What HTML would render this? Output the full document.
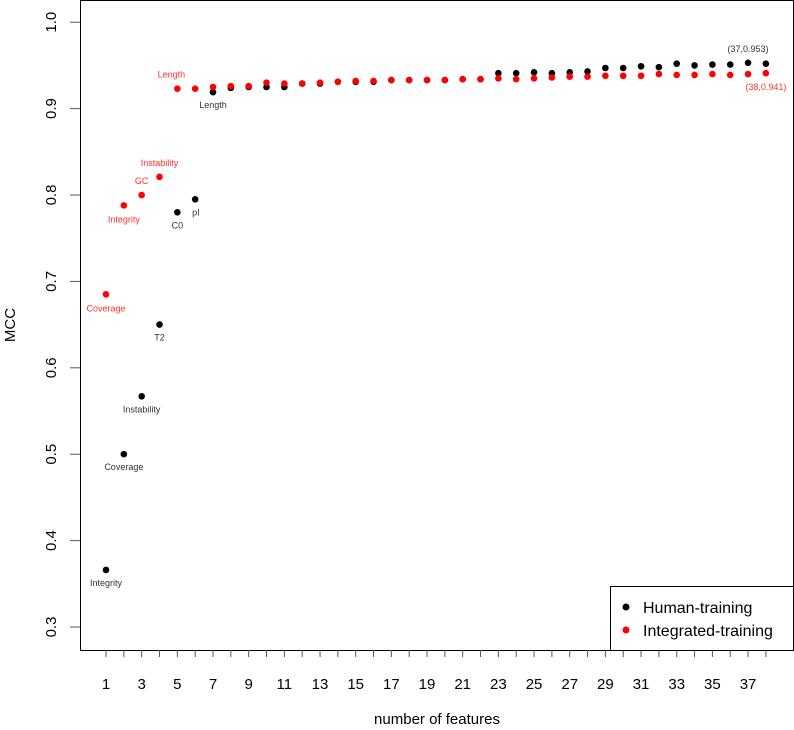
<!DOCTYPE html>
<html><head><meta charset="utf-8"><style>body{margin:0;background:#fff}svg{display:block;font-family:"Liberation Sans",Arial,sans-serif}</style></head>
<body>
<svg id="chart" width="794" height="730" viewBox="0 0 794 730">
<rect x="80.5" y="0.5" width="713" height="650" fill="none" stroke="#000"/>
<g id="axes"></g><g id="pts"></g><g id="ann"></g>
<text transform="translate(15,325) rotate(-90)" text-anchor="middle" font-size="15">MCC</text>
<text x="437" y="724" text-anchor="middle" font-size="15">number of features</text>
<g>
<rect x="610.5" y="586.5" width="183" height="64" fill="#fff" stroke="#000"/>
<circle cx="626" cy="607" r="3.5" fill="#000"/><text x="643" y="613" font-size="16">Human-training</text>
<circle cx="626" cy="630" r="3.5" fill="#f00"/><text x="643" y="636" font-size="16">Integrated-training</text>
</g>
</svg>
<script>
const human=[0.366,0.500,0.567,0.650,0.780,0.795,0.919,0.924,0.925,0.925,0.925,0.929,0.929,0.931,0.931,0.931,0.933,0.933,0.933,0.933,0.934,0.934,0.941,0.941,0.942,0.941,0.942,0.943,0.947,0.947,0.949,0.948,0.952,0.950,0.951,0.951,0.953,0.952];
const integrated=[0.685,0.788,0.800,0.821,0.923,0.923,0.925,0.926,0.926,0.930,0.929,0.929,0.930,0.931,0.932,0.932,0.933,0.933,0.933,0.933,0.934,0.934,0.935,0.934,0.935,0.936,0.937,0.937,0.938,0.938,0.938,0.940,0.939,0.939,0.940,0.939,0.940,0.941];
const yTicks=[0.3,0.4,0.5,0.6,0.7,0.8,0.9,1.0];
const xLabels=[1,3,5,7,9,11,13,15,17,19,21,23,25,27,29,31,33,35,37];
const humanNotes=[[1,"Integrity"],[2,"Coverage"],[3,"Instability"],[4,"T2"],[5,"C0"],[7,"Length"]];
const intNotes=[[1,"Coverage"],[2,"Integrity"],[3,"GC"],[4,"Instability"],[5,"Length"]];
const NS="http://www.w3.org/2000/svg";
const X=v=>106+(v-1)*17.835, Y=v=>627-(v-0.3)*864;
function mk(tag,at,parent,txt){const e=document.createElementNS(NS,tag);for(const k in at)e.setAttribute(k,at[k]);if(txt!=null)e.textContent=txt;document.getElementById(parent).appendChild(e);return e;}
yTicks.forEach(t=>{
 const l=mk('line',{x1:70,x2:80,y1:Y(t),y2:Y(t),stroke:'#555'},'axes');
 
 
 const tx=mk('text',{transform:`translate(56,${Y(t)}) rotate(-90)`,'text-anchor':'middle','font-size':15},'axes',t.toFixed(1));
 
 
});
for(let i=1;i<=38;i++){
 const l=mk('line',{x1:X(i),x2:X(i),y1:650,y2:657,stroke:'#555'},'axes');
 
 
}
xLabels.forEach(v=>{
 const t=mk('text',{x:X(v),y:689,'text-anchor':'middle','font-size':15},'axes',String(v));
 
 
});
human.forEach((v,i)=>{
 const c=mk('circle',{cx:X(i+1),cy:Y(v),r:3.3,fill:'#000'},'pts');
 
 
});
integrated.forEach((v,i)=>{
 const c=mk('circle',{cx:X(i+1),cy:Y(v),r:3.3,fill:'#f00'},'pts');
 
 
});
humanNotes.forEach(([x,s])=>{
 const t=mk('text',{x:X(x),y:Y(human[x-1])+16,'text-anchor':'middle','font-size':9,fill:'#333'},'ann',s);
 
 
});
const pl=mk('text',{x:X(6)-3,y:Y(human[5])+16,'font-size':9,fill:'#333'},'ann','pI');


intNotes.forEach(([x,s])=>{
 const above=x>=3;
 const t=mk('text',{x:X(x)+(x===5?-6:0),y:above?Y(integrated[x-1])-11:Y(integrated[x-1])+17,'text-anchor':'middle','font-size':9,fill:'#f33'},'ann',s);
 
 
});
const a1=mk('text',{x:X(37),y:Y(human[36])-11,'text-anchor':'middle','font-size':9,fill:'#333'},'ann','(37,0.953)');


const a2=mk('text',{x:X(38),y:Y(integrated[37])+17,'text-anchor':'middle','font-size':9,fill:'#f33'},'ann','(38,0.941)');


</script>
</body></html>
